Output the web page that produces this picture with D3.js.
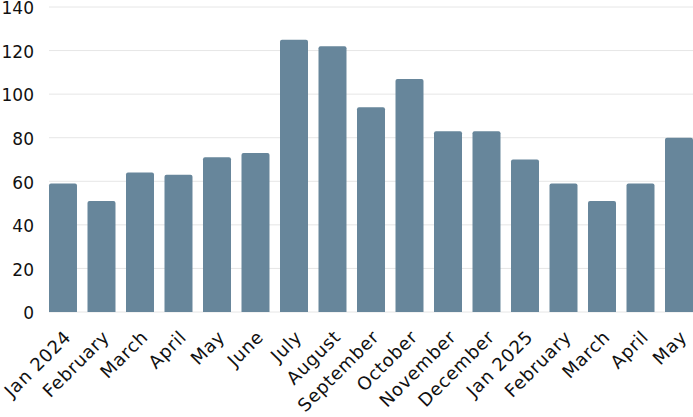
<!DOCTYPE html>
<html><head><meta charset="utf-8">
<script src="https://cdn.jsdelivr.net/npm/d3@7"></script>
<style>body{margin:0;background:#fff}svg{display:block}</style>
</head><body>
<svg id="c" width="693" height="417"></svg>
<script>
const categories = ["Jan 2024","February","March","April","May","June","July","August","September","October","November","December","Jan 2025","February ","March ","April ","May "];
const values = [59,51,64,63,71,73,125,122,94,107,83,83,70,59,51,59,80];
const yTicks = [0,20,40,60,80,100,120,140];

const svg = d3.select("#c");
const m = {left:49, right:0, top:7, bottom:105};
const W = 693, H = 417;
const x = d3.scaleBand().domain(categories).range([m.left, W - m.right]).paddingInner(0.273).paddingOuter(0);
const y = d3.scaleLinear().domain([0,140]).range([H - m.bottom, m.top]);

const font = "'DejaVu Sans', sans-serif";
// grid
svg.append("g").selectAll("line").data(yTicks).join("line")
  .attr("x1", m.left).attr("x2", W).attr("y1", d=>y(d)).attr("y2", d=>y(d))
  .attr("stroke", "#e6e6e6").attr("stroke-width", 1);

// y axis
const ya = svg.append("g").attr("transform", `translate(${m.left},0)`)
  .call(d3.axisLeft(y).tickValues(yTicks).tickSize(0).tickPadding(15));
ya.select(".domain").remove();
ya.selectAll("text").attr("font-family", font).attr("font-size", 17).attr("fill", "#111")
  .attr("dy", "0.4em");

// bars
svg.append("g").selectAll("path").data(values).join("path")
  .attr("fill", "#67869b")
  .attr("d", (d,i) => {
    const x0 = x(categories[i]), w = x.bandwidth(), y0 = y(d), y1 = y(0), r = 2;
    return `M${x0},${y1}V${y0+r}Q${x0},${y0} ${x0+r},${y0}H${x0+w-r}Q${x0+w},${y0} ${x0+w},${y0+r}V${y1}Z`;
  });

// x axis
const xa = svg.append("g").attr("transform", `translate(0,${y(0)})`)
  .call(d3.axisBottom(x).tickSize(0).tickFormat(d=>d.trim()));
xa.select(".domain").remove();
xa.selectAll("text")
  .attr("font-family", font).attr("font-size", 18).attr("fill", "#111")
  .attr("letter-spacing", "0.7px")
  .attr("text-anchor", "end")
  .attr("dy", 0)
  .attr("transform", "translate(7,24) rotate(-45)");
</script>
</body></html>
